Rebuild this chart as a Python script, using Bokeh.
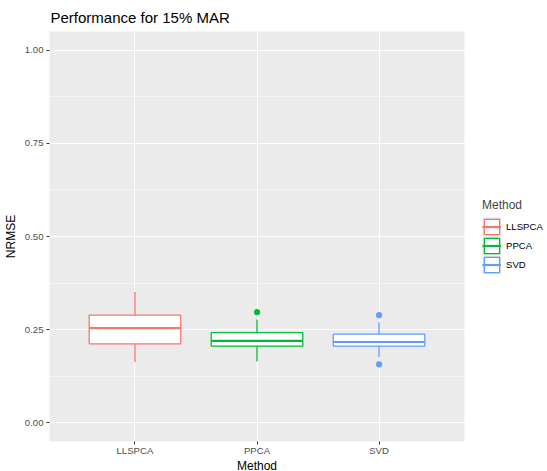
from bokeh.plotting import figure
from bokeh.models import (FactorRange, Range1d, FixedTicker, Legend, LegendItem,
                          ColumnDataSource, PrintfTickFormatter)
from bokeh.transform import dodge
from bokeh.embed import file_html
from bokeh.resources import INLINE

# ---- data ----
methods = ["LLSPCA", "PPCA", "SVD"]
colors = ["#F8766D", "#00BA38", "#619CFF"]
lower_whisker = [0.163, 0.165, 0.177]
q1 = [0.212, 0.206, 0.206]
median = [0.254, 0.220, 0.217]
q3 = [0.289, 0.242, 0.238]
upper_whisker = [0.351, 0.277, 0.270]
outlier_method = ["PPCA", "SVD", "SVD"]
outlier_value = [0.297, 0.289, 0.157]
y_ticks = [0.0, 0.25, 0.5, 0.75, 1.0]
y_minor = [0.125, 0.375, 0.625, 0.875]

FONT = "Liberation Sans"

p = figure(
    x_range=FactorRange(factors=methods, range_padding=0.2, range_padding_units="absolute"),
    y_range=Range1d(-0.05, 1.05),
    frame_width=415, frame_height=410,
    min_border_left=49, min_border_right=83, min_border_top=30, min_border_bottom=30,
    output_backend="svg", toolbar_location=None,
    title="Performance for 15% MAR",
)
p.background_fill_color = "#EBEBEB"
p.border_fill_color = "white"
p.outline_line_color = None

p.title.text_font = FONT
p.title.text_font_size = "15px"
p.title.text_font_style = "normal"
p.title.text_color = "black"
p.title.standoff = 12
p.title.offset = 1

src = ColumnDataSource(dict(method=methods, color=colors, lo=lower_whisker, q1=q1,
                            med=median, q3=q3, hi=upper_whisker))
out_src = ColumnDataSource(dict(method=outlier_method, value=outlier_value,
                                color=[colors[methods.index(m)] for m in outlier_method]))

# zero-length segment: invisible in the plot, gives the grey legend key background
key_bg = p.segment(x0="method", x1="method", y0="med", y1="med", line_color="#E6E6E6",
                   line_width=19, line_cap="butt", source=src)
p.segment(x0="method", x1="method", y0="q3", y1="hi", line_color="color", line_width=1.3, source=src)
p.segment(x0="method", x1="method", y0="lo", y1="q1", line_color="color", line_width=1.3, source=src)
box = p.vbar(x="method", top="q3", bottom="q1", width=0.75, fill_color="white",
             line_color="color", line_width=1.3, source=src)
med = p.segment(x0=dodge("method", -0.375, range=p.x_range), x1=dodge("method", 0.375, range=p.x_range),
                y0="med", y1="med", line_color="color", line_width=2.2, source=src)
p.scatter(x="method", y="value", color="color", size=5.5, source=out_src)

# axes
for ax in (p.xaxis[0], p.yaxis[0]):
    ax.axis_line_color = None
    ax.major_tick_line_color = "#333333"
    ax.major_tick_out = 3
    ax.major_tick_in = 0
    ax.minor_tick_line_color = None
    ax.major_label_text_font = FONT
    ax.major_label_text_font_size = "9.6px"
    ax.major_label_text_color = "#4D4D4D"
    ax.axis_label_text_font = FONT
    ax.axis_label_text_font_size = "12px"
    ax.axis_label_text_font_style = "normal"
    ax.axis_label_text_color = "black"

p.xaxis.major_label_standoff = 0
p.xaxis.axis_label_standoff = 0
p.yaxis.major_label_standoff = 2
p.yaxis.axis_label_standoff = 4

p.xaxis.axis_label = "Method"
p.yaxis.axis_label = "NRMSE"
p.yaxis.ticker = FixedTicker(ticks=y_ticks, minor_ticks=y_minor)
p.yaxis.formatter = PrintfTickFormatter(format="%.2f")

p.xgrid.grid_line_color = "white"
p.xgrid.grid_line_width = 1.1
p.ygrid.ticker = FixedTicker(ticks=y_ticks, minor_ticks=y_minor)
p.ygrid.grid_line_color = "white"
p.ygrid.grid_line_width = 1.1
p.ygrid.minor_grid_line_color = "white"
p.ygrid.minor_grid_line_width = 0.5

items = [LegendItem(label=m, renderers=[key_bg, box, med], index=i) for i, m in enumerate(methods)]
legend = Legend(items=items, location=(18, 167), title="Method",
                title_text_font=FONT, title_text_font_size="12px", title_text_font_style="normal",
                title_standoff=5, label_text_font=FONT, label_text_font_size="9.6px",
                label_text_color="black", glyph_width=19, glyph_height=19, label_height=19,
                spacing=0, padding=0, margin=0, border_line_color=None,
                background_fill_alpha=0, label_standoff=5)
p.add_layout(legend, "right")

open("out.html", "w").write(file_html(p, INLINE))
